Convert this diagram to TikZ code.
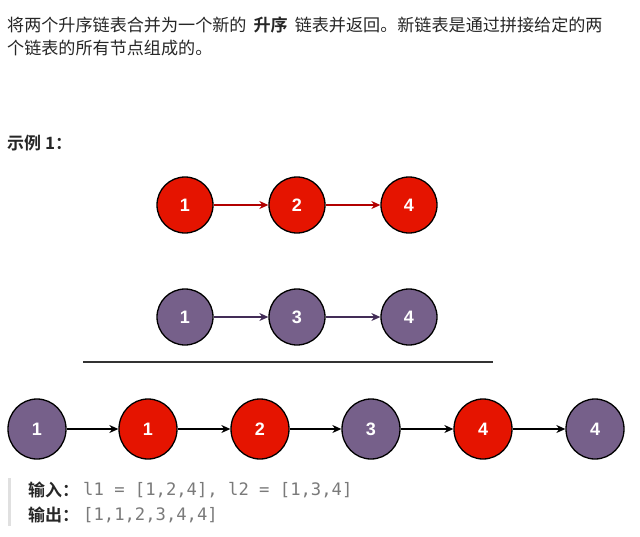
\documentclass[tikz,border=0pt]{standalone}
\usepackage{fontspec}
\setmainfont{Liberation Sans}
\newfontfamily\cjk{Noto Sans CJK SC}
\newfontfamily\cjkb{Noto Sans CJK SC Bold}
\newfontfamily\codefont{DejaVu Sans Mono}
\usetikzlibrary{arrows.meta,shapes.geometric}
\definecolor{nred}{HTML}{E51400}
\definecolor{npurple}{HTML}{76608A}
\definecolor{ared}{HTML}{B20000}
\definecolor{apurple}{HTML}{432D57}
\definecolor{codegray}{HTML}{7A7A7A}
\definecolor{txt}{HTML}{262626}
\tikzset{
  lnode/.style={circle, draw=black, line width=1.3pt, minimum size=56pt, inner sep=0pt,
    text=white, font=\fontsize{18}{18}\selectfont\bfseries},
  rnode/.style={lnode, fill=nred},
  pnode/.style={lnode, fill=npurple},
  bnode/.style={lnode, ellipse, minimum width=58pt, minimum height=60pt},
  link/.style={-{Stealth[length=9pt,width=8pt]}, line width=1.2pt},
  txtline/.style={anchor=west, inner sep=0pt, text=txt, font=\cjk\fontsize{17.1}{17.1}\selectfont},
  boldline/.style={txtline, font=\cjkb\fontsize{17}{17}\selectfont},
  codeline/.style={anchor=west, inner sep=0pt, text=codegray, font=\codefont\fontsize{17.2}{17.2}\selectfont},
}
\begin{document}
\begin{tikzpicture}[x=1pt,y=-1pt]
\useasboundingbox (0,0) rectangle (640,536);
\node[txtline] (t1) at (7,25) {将两个升序链表合并为一个新的\hspace{7pt}{\cjkb 升序}\hspace{7pt}链表并返回。新链表是通过拼接给定的两};
\node[txtline] (t2) at (7,48) {个链表的所有节点组成的。};
\node[boldline] (ex) at (7,143) {示例 1：};
% top row
\node[rnode] (a1) at (185,205) {1};
\node[rnode] (a2) at (297,205) {2};
\node[rnode] (a3) at (409,205) {4};
\draw[link, ared] (a1) -- (a2);
\draw[link, ared] (a2) -- (a3);
% second row
\node[pnode] (b1) at (185,317) {1};
\node[pnode] (b3) at (297,317) {3};
\node[pnode] (b4) at (409,317) {4};
\draw[link, apurple] (b1) -- (b3);
\draw[link, apurple] (b3) -- (b4);
% separator
\coordinate (s1) at (83,362);
\coordinate (s2) at (493,362);
\draw[line width=2pt, black!80] (s1) -- (s2);
% result row
\node[bnode, fill=npurple] (c1) at (37,429) {1};
\node[bnode, fill=nred] (c2) at (148,429) {1};
\node[bnode, fill=nred] (c3) at (260,429) {2};
\node[bnode, fill=npurple] (c4) at (371,429) {3};
\node[bnode, fill=nred] (c5) at (483,429) {4};
\node[bnode, fill=npurple] (c6) at (595,429) {4};
\foreach \p/\q in {c1/c2,c2/c3,c3/c4,c4/c5,c5/c6}{
  \draw[link, black] (\p) -- (\q);
}
% quote block
\coordinate (q1) at (9,478);
\coordinate (q2) at (9,526);
\draw[line width=3pt, black!12] (q1) -- (q2);
\node[boldline] (in) at (28,490) {输入：};
\node[codeline] (inc) at (83,490) {l1 = [1,2,4], l2 = [1,3,4]};
\node[boldline] (out) at (28,515) {输出：};
\node[codeline] (outc) at (83,515) {[1,1,2,3,4,4]};
\end{tikzpicture}
\end{document}
